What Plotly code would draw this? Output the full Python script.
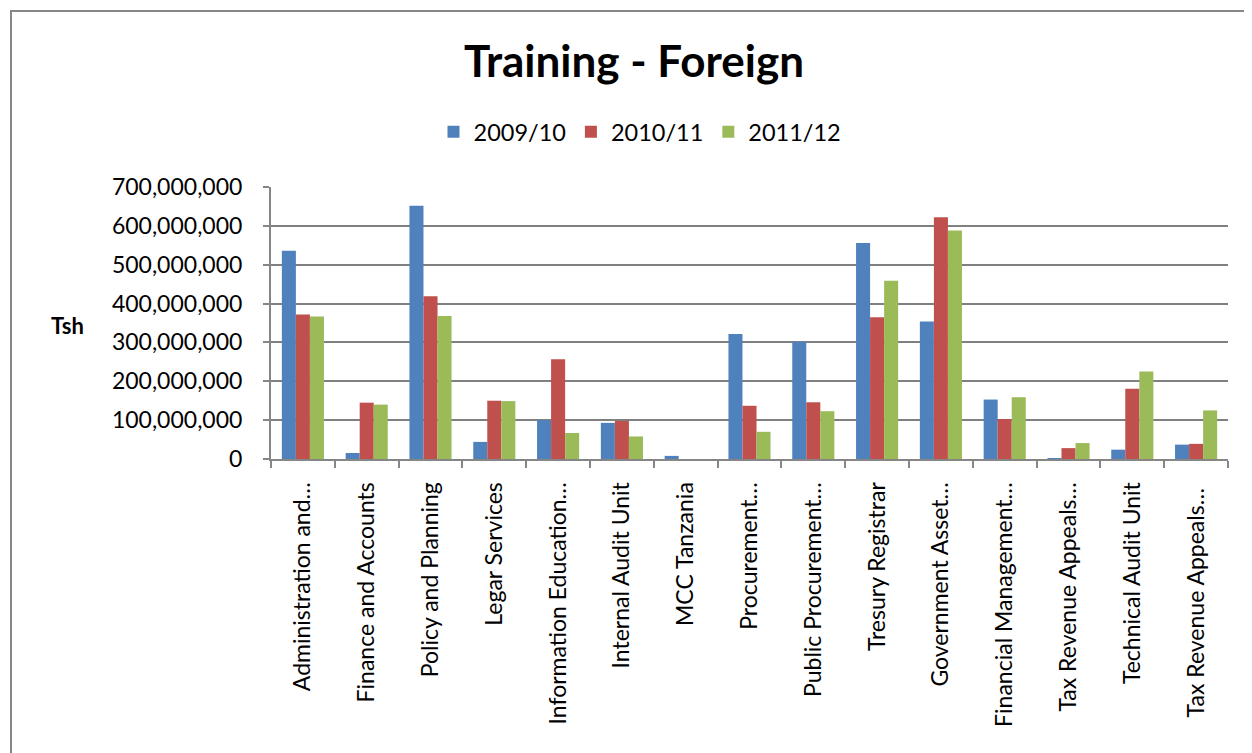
import plotly.graph_objects as go

categories = [
    "Administration and…", "Finance and Accounts", "Policy and Planning",
    "Legar Services", "Information Education…", "Internal Audit Unit",
    "MCC Tanzania", "Procurement…", "Public Procurement…", "Tresury Registrar",
    "Government Asset…", "Financial Management…", "Tax Revenue Appeals…",
    "Technical Audit Unit", "Tax Revenue Appeals… ",
]
series_names = ["2009/10", "2010/11", "2011/12"]
values_2009_10 = [536e6, 15.5e6, 652e6, 44e6, 100e6, 93e6, 8e6, 322e6, 302e6,
                  556e6, 354e6, 153e6, 1.5e6, 24e6, 37e6]
values_2010_11 = [372e6, 145e6, 419e6, 150e6, 257e6, 98e6, 0, 137e6, 146e6,
                  365e6, 622e6, 103e6, 28e6, 181e6, 39e6]
values_2011_12 = [367e6, 140e6, 368e6, 149e6, 67e6, 58e6, 0, 70e6, 123e6,
                  459e6, 588e6, 159e6, 41e6, 225e6, 125e6]
colors = ["#4F81BD", "#C0504D", "#9BBB59"]
y_ticks = [0, 100e6, 200e6, 300e6, 400e6, 500e6, 600e6, 700e6]
y_tick_text = ["0", "100,000,000", "200,000,000", "300,000,000", "400,000,000",
               "500,000,000", "600,000,000", "700,000,000"]

FONT = "Lato"
fig = go.Figure()
for name, vals, c in zip(series_names, [values_2009_10, values_2010_11, values_2011_12], colors):
    fig.add_trace(go.Bar(x=categories, y=vals, name=name, marker=dict(color=c, line=dict(width=0))))

OFF = 8  # default page body margin
W, H = 1252 - OFF, 753 - OFF
# page-coordinate plot box
PL, PR, PT, PB = 271, 1228, 187, 459
L, T = PL - OFF, PT - OFF
R, B = W - (PR - OFF), H - (PB - OFF)
pw, ph = PR - PL, PB - PT

def px(x):
    return (x - PL) / pw

def py(y):
    return (PB - y) / ph

fig.update_layout(
    width=W, height=H,
    margin=dict(l=L, r=R, t=T, b=B, autoexpand=False),
    paper_bgcolor="white", plot_bgcolor="white",
    barmode="group", bargap=0.34, bargroupgap=0,
    font=dict(family=FONT, color="black", size=23),
    title=dict(text="<b>Training - Foreign</b>", x=(634 - OFF) / W, xanchor="center",
               y=1 - (62 - OFF) / H, yanchor="middle", font=dict(family=FONT, size=44, color="black")),
    legend=dict(orientation="h", x=px(640), xanchor="center", y=py(132), yanchor="middle",
                font=dict(family=FONT, size=23.5), itemwidth=30, traceorder="normal"),
    showlegend=True,
    xaxis=dict(type="category", tickangle=-90, showline=True, linecolor="#868686", linewidth=2,
               ticks="outside", tickson="boundaries", ticklen=7, tickcolor="#868686", tickwidth=2,
               tickfont=dict(family=FONT, size=23), showgrid=False, ticklabelstandoff=12),
    yaxis=dict(range=[0, 700e6], tickvals=y_ticks, ticktext=y_tick_text, showline=True,
               linecolor="#868686", linewidth=2, ticks="outside", ticklen=6, tickcolor="#868686",
               tickwidth=2, showgrid=True, gridcolor="#808080", gridwidth=2, zeroline=False,
               tickfont=dict(family=FONT, size=23), ticklabelstandoff=16),
    annotations=[dict(text="<b>Tsh</b>", x=px(67), y=py(325), xref="paper", yref="paper",
                      showarrow=False, xanchor="center", yanchor="middle",
                      font=dict(family=FONT, size=22, color="black"))],
    shapes=[dict(type="rect", xref="paper", yref="paper", x0=px(11), x1=px(1300), y0=py(900), y1=py(11),
                 line=dict(color="#878787", width=2), fillcolor="rgba(0,0,0,0)", layer="below")],
)
fig.write_html("out.html")
